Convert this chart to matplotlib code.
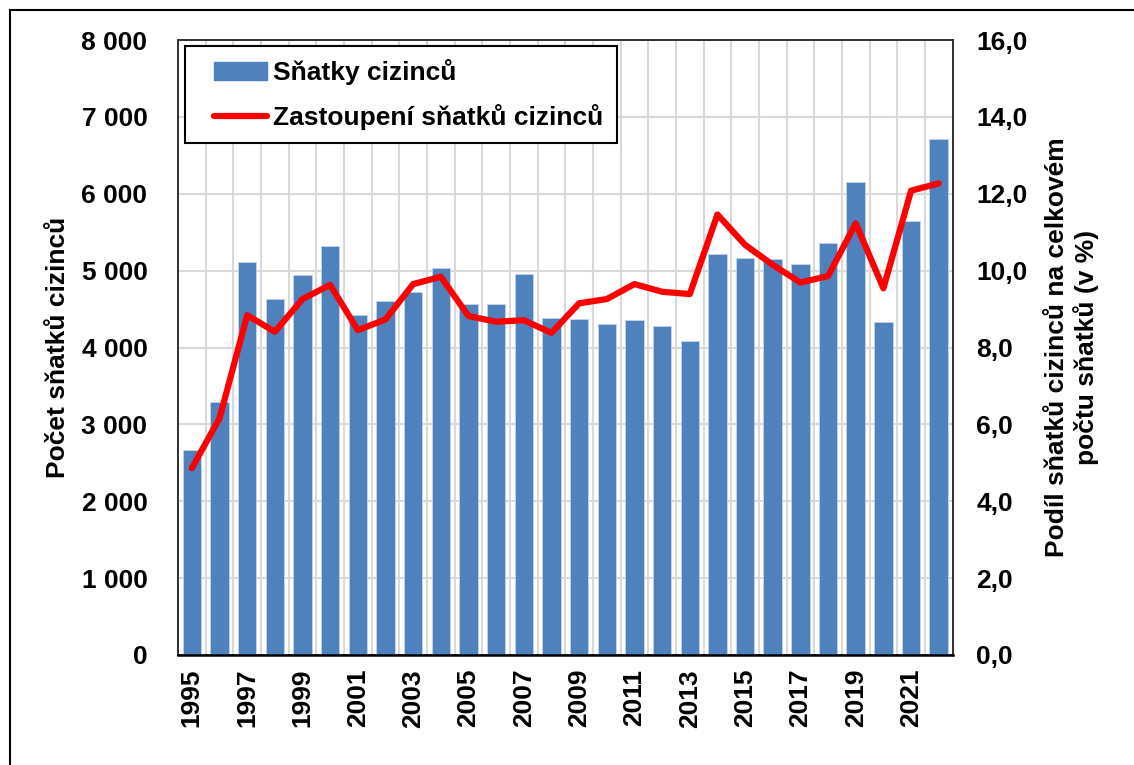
import numpy as np
import matplotlib
matplotlib.use("Agg")
import matplotlib.pyplot as plt
from matplotlib.lines import Line2D
from matplotlib.legend_handler import HandlerPatch, HandlerLine2D

# --- data ---
years = list(range(1995, 2023))
marriages = [2670, 3290, 5110, 4630, 4940, 5320, 4420, 4600, 4720, 5040,
             4560, 4560, 4960, 4390, 4370, 4310, 4360, 4280, 4080, 5210,
             5170, 5150, 5080, 5360, 6150, 4330, 5650, 6710]
share_pct = [4.86, 6.16, 8.84, 8.41, 9.26, 9.63, 8.45, 8.73, 9.65, 9.84,
             8.82, 8.67, 8.71, 8.38, 9.15, 9.26, 9.65, 9.45, 9.39, 11.46,
             10.67, 10.15, 9.69, 9.86, 11.23, 9.54, 12.08, 12.27]
left_ticks = [0, 1000, 2000, 3000, 4000, 5000, 6000, 7000, 8000]
right_ticks = [0, 2, 4, 6, 8, 10, 12, 14, 16]

plt.rcParams['font.family'] = ['Liberation Sans', 'DejaVu Sans']
plt.rcParams['font.weight'] = 'bold'

fig = plt.figure(figsize=(11.34, 7.65), dpi=100)
ax = fig.add_axes([0.157, 0.1438, 0.683, 0.8039])
ax2 = ax.twinx()

x = np.arange(len(years))
ax.bar(x, marriages, width=0.67, color='#4F81BD', edgecolor='#C5D5EA',
       linewidth=0.6, zorder=3)
ax2.plot(x, share_pct, color='#FF0000', linewidth=4.5, solid_capstyle='round',
         solid_joinstyle='round', zorder=4)

ax.set_xlim(-0.5, len(years) - 0.5)
ax.set_ylim(0, 8000)
ax2.set_ylim(0, 16)

# osy a mrizka
ax.set_yticks(left_ticks)
ax.set_yticklabels([f"{v:,}".replace(",", " ") for v in left_ticks], fontsize=19, fontweight='bold')
ax2.set_yticks(right_ticks)
ax2.set_yticklabels([f"{v:.1f}".replace(".", ",") for v in right_ticks], fontsize=19, fontweight='bold')
ax.set_xticks(x[::2])
ax.set_xticklabels([str(y) for y in years[::2]], rotation=90, fontsize=19, fontweight='bold')
ax.set_xticks(x[:-1] + 0.5, minor=True)
ax.grid(axis='y', which='major', color='#D9D9D9', linewidth=1.5, zorder=0)
ax.grid(axis='x', which='minor', color='#D9D9D9', linewidth=1.5, zorder=0)
ax.set_axisbelow(True)

ax.tick_params(axis='both', which='both', length=0)
ax.tick_params(axis='y', pad=22)
ax.tick_params(axis='x', pad=10)
ax2.tick_params(axis='y', length=0, pad=17)

for a in (ax, ax2):
    for s in a.spines.values():
        s.set_color('#333333')
        s.set_linewidth(1.3)
ax2.spines['bottom'].set_linewidth(1.8)
ax2.spines['bottom'].set_color('black')

ax.set_ylabel('Počet sňatků cizinců', fontsize=19, fontweight='bold')
ax2.set_ylabel('Podíl sňatků cizinců na celkovém\npočtu sňatků (v %)',
               fontsize=19, fontweight='bold', linespacing=1.2)
ax2.yaxis.set_label_coords(1.119, 0.5)
ax.yaxis.set_label_coords(-0.14, 0.5)

# legenda - handle posunuty doprava pres xpad
handles = [plt.Rectangle((0, 0), 1, 1, color='#4F81BD'),
           Line2D([0], [0], color='#FF0000', linewidth=4.5, solid_capstyle='round')]
hmap = {handles[0]: HandlerPatch(xpad=0.6), handles[1]: HandlerLine2D(xpad=0.6)}
leg = ax2.legend(handles, ['Sňatky cizinců', 'Zastoupení sňatků cizinců'],
                 handler_map=hmap,
                 loc='upper left', bbox_to_anchor=(0.009, 0.99), borderaxespad=0,
                 prop={'size': 19, 'weight': 'bold'}, frameon=True, fancybox=False,
                 edgecolor='black', framealpha=1, handlelength=2.6, borderpad=0.5,
                 labelspacing=0.7, handletextpad=0.25)
leg.get_frame().set_linewidth(1.5)
leg.set_zorder(10)

# vnejsi ramecek (viditelna horni a leva hrana)
fig.add_artist(Line2D([10 / 1134, 1], [1 - 10 / 765, 1 - 10 / 765], color='black', linewidth=1.5))
fig.add_artist(Line2D([10 / 1134, 10 / 1134], [0, 1 - 10 / 765], color='black', linewidth=1.5))

fig.savefig('out.png', dpi=100)
